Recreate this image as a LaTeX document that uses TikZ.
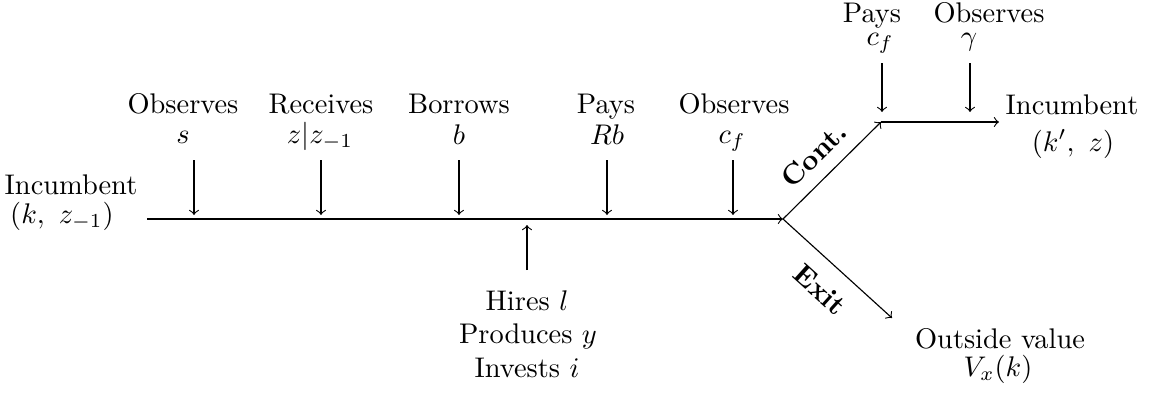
\documentclass[tikz,border=0pt]{standalone}
\begin{document}
\begin{tikzpicture}[x=0.3521pt,y=-0.3521pt,
  lbl/.style={inner sep=0pt,anchor=base},
  arr/.style={->},
  brlbl/.style={inner sep=0pt,font=\bfseries}]
\useasboundingbox (0,0) rectangle (1153,395);
% main timeline
\coordinate (start) at (147,219);
\coordinate (J) at (783,219);
\coordinate (C) at (881,122);
\coordinate (F) at (999,122);
\coordinate (E) at (892,318);
\draw[arr] (start) -- (J);
\draw[arr] (J) -- (C);
\draw[arr] (C) -- (F);
\draw[arr] (J) -- (E);
% left label
\node[lbl] (inc0) at (71,194) {Incumbent};
\node[lbl] (st0) at (62,223) {$(k,\ z_{-1})$};
% top labels on main line
\node[lbl] (obs1) at (183,113) {Observes};
\node[lbl] (obs1m) at (183,143) {$s$};
\node[lbl] (rec) at (321,113) {Receives};
\node[lbl] (recm) at (320,143) {$z|z_{-1}$};
\node[lbl] (bor) at (459,113) {Borrows};
\node[lbl] (borm) at (459,144) {$b$};
\node[lbl] (pay1) at (606,113) {Pays};
\node[lbl] (pay1m) at (607,144) {$Rb$};
\node[lbl] (obs2) at (734,113) {Observes};
\node[lbl] (obs2m) at (732,143) {$c_f$};
% down arrows
\foreach \n/\x in {a1/194,a2/321,a3/459,a4/607,a5/733}{
  \coordinate (\n t) at (\x,160);
  \coordinate (\n b) at (\x,215);
  \draw[arr] (\n t) -- (\n b);
}
% up arrow and bottom labels
\coordinate (ub) at (527,270);
\coordinate (ut) at (527,225);
\draw[arr] (ub) -- (ut);
\node[lbl] (hir) at (527,310) {Hires $l$};
\node[lbl] (pro) at (528,343) {Produces $y$};
\node[lbl] (inv) at (527,377) {Invests $i$};
% top right labels
\node[lbl] (pay2) at (872,22) {Pays};
\node[lbl] (pay2m) at (880,45) {$c_f$};
\node[lbl] (obs3) at (989,22) {Observes};
\node[lbl] (obs3m) at (969,45) {$\gamma$};
\coordinate (b1t) at (882,63);
\coordinate (b1b) at (882,112);
\coordinate (b2t) at (970,63);
\coordinate (b2b) at (970,112);
\draw[arr] (b1t) -- (b1b);
\draw[arr] (b2t) -- (b2b);
% right labels
\node[lbl] (inc1) at (1072,114) {Incumbent};
\node[lbl] (st1) at (1073,151) {$(k',\ z)$};
\node[lbl] (out) at (1000,348) {Outside value};
\node[lbl] (outm) at (998,376) {$V_x(k)$};
% branch labels
\node[brlbl,rotate=45] (cont) at (814,155) {Cont.};
\node[brlbl,rotate=-42] (exit) at (820,290) {Exit};
\end{tikzpicture}
\end{document}
